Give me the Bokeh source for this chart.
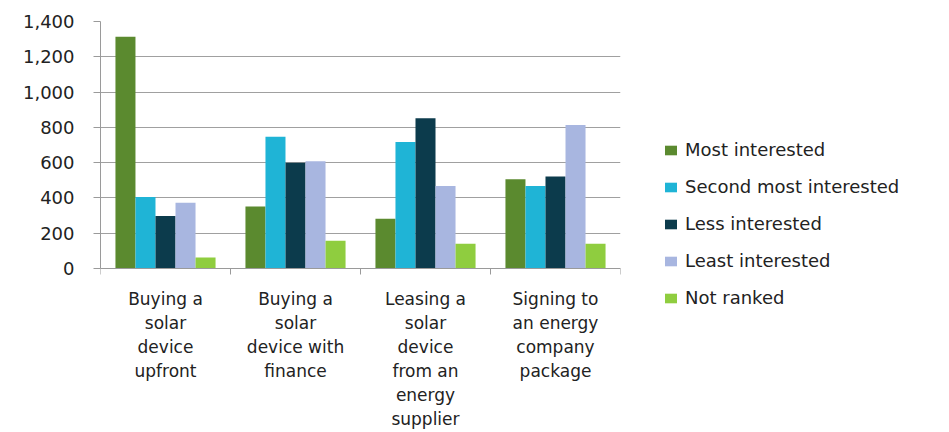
from bokeh.plotting import figure
from bokeh.layouts import row
from bokeh.models import Range1d, FixedTicker, ColumnDataSource, Legend, LegendItem
from bokeh.embed import file_html
from bokeh.resources import INLINE

categories = [
    "Buying a\nsolar\ndevice\nupfront",
    "Buying a\nsolar\ndevice with\nfinance",
    "Leasing a\nsolar\ndevice\nfrom an\nenergy\nsupplier",
    "Signing to\nan energy\ncompany\npackage",
]
series = ["Most interested", "Second most interested", "Less interested",
          "Least interested", "Not ranked"]
most_interested = [1313, 352, 282, 506]
second_most = [405, 747, 717, 468]
less_interested = [297, 600, 852, 521]
least_interested = [372, 608, 468, 813]
not_ranked = [62, 157, 140, 140]
values = [most_interested, second_most, less_interested, least_interested, not_ranked]
colors = ["#5b8a2f", "#1fb4d6", "#0c3b4c", "#a8b6e0", "#8fcd3f"]
y_ticks = [0, 200, 400, 600, 800, 1000, 1200, 1400]

FONT = "DejaVu Sans"
n = len(categories)
ns = len(series)
bar_w = 0.154
y_max = 1400
# room below zero for the category labels (164px of a 247px-tall value area)
y_min = -y_max * 164 / 247

p = figure(width=621, height=432, output_backend="svg", toolbar_location=None,
           x_range=Range1d(0, n), y_range=Range1d(y_min, y_max),
           min_border_left=100, min_border_right=1, min_border_top=21,
           min_border_bottom=0)
p.outline_line_color = None
p.background_fill_color = "white"
p.border_fill_color = "white"

sources = []
for k, (name, vals, col) in enumerate(zip(series, values, colors)):
    xs = [i + 0.5 + (k - (ns - 1) / 2) * bar_w for i in range(n)]
    src = ColumnDataSource(dict(x=xs, top=vals))
    sources.append(src)
    p.vbar(x="x", top="top", bottom=0, width=bar_w, source=src,
           fill_color=col, line_color=None)

# x axis sits on the zero line
p.xaxis.fixed_location = 0
p.xaxis.ticker = FixedTicker(ticks=[i + 0.5 for i in range(n)],
                             minor_ticks=list(range(n + 1)))
p.xaxis.major_label_overrides = {i + 0.5: c for i, c in enumerate(categories)}
p.xaxis.major_tick_out = 0
p.xaxis.major_tick_in = 0
p.xaxis.minor_tick_out = 6
p.xaxis.minor_tick_in = 0
p.xaxis.minor_tick_line_color = "#9a9a9a"
p.xaxis.axis_line_color = "#9a9a9a"
p.xaxis.major_label_text_font = FONT
p.xaxis.major_label_text_font_size = "17px"
p.xaxis.major_label_text_color = "#222222"
p.xaxis.major_label_text_line_height = 1.2
p.xaxis.major_label_standoff = 14

p.yaxis.bounds = (0, y_max)
p.yaxis.ticker = FixedTicker(ticks=y_ticks)
p.yaxis.major_label_overrides = {t: f"{t:,}" for t in y_ticks}
p.yaxis.major_tick_out = 7
p.yaxis.major_tick_in = 0
p.yaxis.minor_tick_line_color = None
p.yaxis.major_tick_line_color = "#9a9a9a"
p.yaxis.axis_line_color = "#9a9a9a"
p.yaxis.major_label_text_font = FONT
p.yaxis.major_label_text_font_size = "18px"
p.yaxis.major_label_text_color = "#222222"
p.yaxis.major_label_standoff = 19

p.xgrid.grid_line_color = None
p.ygrid.grid_line_color = "#a0a0a0"
p.ygrid.grid_line_width = 1

# legend panel (same sources, whose bars fall wholly outside its visible ranges)
lf = figure(width=328, height=432, output_backend="svg", toolbar_location=None,
            x_axis_type=None, y_axis_type=None, x_range=Range1d(-10, -5),
            y_range=Range1d(-3000, -2000), min_border=0)
lf.outline_line_color = None
lf.xgrid.grid_line_color = None
lf.ygrid.grid_line_color = None
lf.background_fill_color = "white"
lf.border_fill_color = "white"
items = []
for name, col, src in zip(series, colors, sources):
    r = lf.vbar(x="x", top="top", bottom=0, width=bar_w, source=src,
                fill_color=col, line_color=None)
    items.append(LegendItem(label=name, renderers=[r]))

legend = Legend(items=items, location=(42, 124), orientation="vertical")
legend.label_text_font = FONT
legend.label_text_font_size = "18px"
legend.label_text_color = "#222222"
legend.glyph_width = 15
legend.glyph_height = 12
legend.label_height = 20
legend.spacing = 16
legend.padding = 0
legend.margin = 0
legend.label_standoff = 7
legend.border_line_color = None
legend.background_fill_alpha = 0
lf.add_layout(legend)

layout = row(p, lf, spacing=0)
open("out.html", "w").write(file_html(layout, INLINE))
